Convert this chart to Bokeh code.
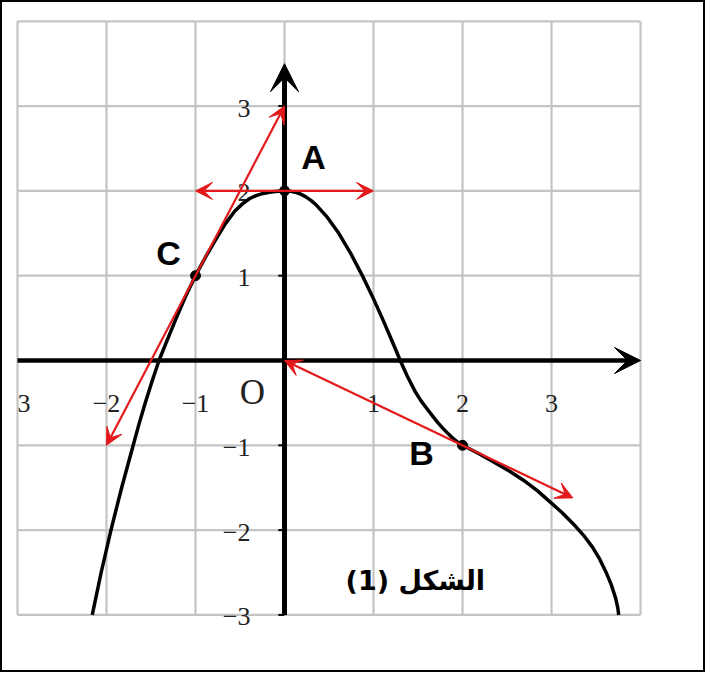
from bokeh.plotting import figure
from bokeh.models import Range1d, Arrow, VeeHead, ColumnDataSource
from bokeh.core.properties import value
from bokeh.embed import file_html
from bokeh.resources import INLINE

# ---- data ----
curve_x = [-2.16, -2.06, -1.95, -1.83, -1.70, -1.635, -1.565, -1.49, -1.41, -1.31, -1.22, -1.11, -1.0,
           -0.89, -0.77, -0.66, -0.56, -0.47, -0.39, -0.32, -0.24, -0.17, -0.08, 0.0,
           0.06, 0.12, 0.18, 0.24, 0.30, 0.36, 0.48, 0.61, 0.74, 0.87, 0.99, 1.11, 1.22,
           1.30, 1.38, 1.47, 1.53, 1.59, 1.66, 1.72, 1.78, 1.84, 1.90, 1.95, 2.0,
           2.17, 2.34, 2.52, 2.71, 2.84, 2.97, 3.12, 3.27, 3.37, 3.46, 3.54, 3.61, 3.67,
           3.72, 3.745, 3.755]
curve_y = [-3.0, -2.5, -2.0, -1.5, -1.0, -0.75, -0.5, -0.25, 0.0, 0.26, 0.49, 0.76, 1.0,
           1.215, 1.43, 1.62, 1.76, 1.85, 1.91, 1.945, 1.97, 1.985, 1.997, 2.0,
           1.997, 1.985, 1.963, 1.93, 1.885, 1.83, 1.69, 1.50, 1.27, 1.01, 0.75, 0.47, 0.20,
           0.0, -0.185, -0.37, -0.47, -0.555, -0.65, -0.73, -0.80, -0.865, -0.925, -0.965, -1.0,
           -1.09, -1.19, -1.30, -1.43, -1.535, -1.655, -1.795, -1.955, -2.075, -2.2, -2.34,
           -2.49, -2.64, -2.80, -2.92, -3.0]

point_names = ["A", "B", "C"]
point_x = [0, 2, -1]
point_y = [2, -1, 1]

tangent_x0 = [-1, 0, -2]
tangent_y0 = [2, 0, -1]
tangent_x1 = [1, 3.24, 0]
tangent_y1 = [2, -1.62, 3]

grid_vals = [-3, -2, -1, 0, 1, 2, 3, 4]
xtick_vals = [-2, -1, 1, 2, 3]
xtick_labels = ["\u22122", "\u22121", "1", "2", "3"]
ytick_vals = [-3, -2, -1, 1, 2, 3]
ytick_labels = ["\u22123", "\u22122", "\u22121", "1", "2", "3"]
title_text = "(1) الشكل"

# ---- figure ----
p = figure(width=705, height=672, output_backend="svg", toolbar_location=None,
           x_range=Range1d(-3.191, 4.730), y_range=Range1d(-3.679, 4.245),
           x_axis_type=None, y_axis_type=None, min_border=0)
p.grid.visible = False
p.outline_line_color = "black"
p.outline_line_width = 3
p.background_fill_color = "white"

lo, hi = grid_vals[0], grid_vals[-1]
# grid
p.segment(x0=grid_vals, y0=[lo] * len(grid_vals), x1=grid_vals, y1=[hi] * len(grid_vals),
          line_color="#c4c4c4", line_width=2.2)
p.segment(x0=[lo] * len(grid_vals), y0=grid_vals, x1=[hi] * len(grid_vals), y1=grid_vals,
          line_color="#c4c4c4", line_width=2.2)

# axes
p.add_layout(Arrow(end=VeeHead(size=26, fill_color="black", line_color="black"),
                   x_start=lo, y_start=0, x_end=hi, y_end=0, line_width=4.5, line_color="black"))
p.add_layout(Arrow(end=VeeHead(size=28, fill_color="black", line_color="black"),
                   x_start=0, y_start=lo, x_end=0, y_end=3.5, line_width=5, line_color="black"))
# y ticks
p.segment(x0=[-0.07] * len(ytick_vals), y0=ytick_vals, x1=[0] * len(ytick_vals), y1=ytick_vals,
          line_color="black", line_width=2)

# tick labels
serif = value("Liberation Serif")
p.text(x=xtick_vals, y=[0] * len(xtick_vals), text=xtick_labels, text_font=serif,
       text_font_size="26px", text_color="#222222", text_align="center",
       text_baseline="middle", y_offset=43)
p.text(x=[lo], y=[0], text=["3"], text_font=serif, text_font_size="26px",
       text_color="#222222", text_align="left", text_baseline="middle", y_offset=43)
p.text(x=[0] * len(ytick_vals), y=ytick_vals, text=ytick_labels, text_font=serif,
       text_font_size="26px", text_color="#222222", text_align="right",
       text_baseline="middle", x_offset=-34, y_offset=2)
p.text(x=[0], y=[0], text=["O"], text_font=serif, text_font_size="35px",
       text_color="#222222", text_align="center", text_baseline="middle",
       x_offset=-32, y_offset=32)

# curve
p.line(curve_x, curve_y, line_color="black", line_width=3.5, line_join="round")

# tangents
tsrc = ColumnDataSource(dict(x0=tangent_x0, y0=tangent_y0, x1=tangent_x1, y1=tangent_y1))
p.add_layout(Arrow(start=VeeHead(size=17, fill_color="#e31a1c", line_color="#e31a1c", line_width=1),
                   end=VeeHead(size=17, fill_color="#e31a1c", line_color="#e31a1c", line_width=1),
                   x_start="x0", y_start="y0", x_end="x1", y_end="y1", source=tsrc,
                   line_color="#e31a1c", line_width=2.2))

# points
p.scatter(point_x, point_y, size=10, color="black")

# point labels
label_dx = [29, -41, -27]
label_dy = [34, -8, 23]
p.text(x=point_x, y=point_y, text=point_names, text_font=value("Liberation Sans"),
       text_font_style="bold", text_font_size="34px", text_color="black",
       text_align="center", text_baseline="middle", x_offset=label_dx,
       y_offset=[-d for d in label_dy])

# figure caption
p.text(x=[1.47], y=[-2.594], text=[title_text], text_font=value("DejaVu Sans"),
       text_font_style="bold", text_font_size="27px", text_color="black",
       text_align="center", text_baseline="middle")

open("out.html", "w").write(file_html(p, INLINE))
